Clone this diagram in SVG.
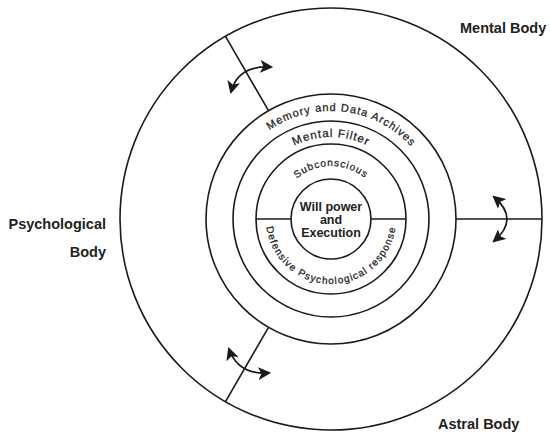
<svg xmlns="http://www.w3.org/2000/svg" width="550" height="433" viewBox="0 0 550 433">
<style>
.ring{fill:none;stroke:#1a1a1a;stroke-width:1.6}
.ln{stroke:#1a1a1a;stroke-width:1.6;fill:none}
.arr{stroke:#1a1a1a;stroke-width:1.7;fill:none;marker-start:url(#ah);marker-end:url(#ah)}
.lbl{font-family:"Liberation Sans",Arial,sans-serif;font-weight:bold;font-size:14.5px;fill:#222}
.ctr{font-family:"Liberation Sans",Arial,sans-serif;font-weight:bold;font-size:12.5px;fill:#222;text-anchor:middle}
.arc{font-family:"Liberation Sans",Arial,sans-serif;fill:#222;text-anchor:middle;stroke:#222;stroke-width:0.25}
</style>
<defs>
<marker id="ah" viewBox="0 0 12 12" refX="10" refY="6" markerWidth="13" markerHeight="13" markerUnits="userSpaceOnUse" orient="auto-start-reverse">
<path d="M0,0 L12,6 L0,12 L3,6 z" fill="#1a1a1a"/>
</marker>
<path id="pMem" d="M 223,219 A 108,108 0 0 1 439,219"/>
<path id="pFil" d="M 249,219 A 82,82 0 0 1 413,219"/>
<path id="pSub" d="M 278,219 A 53,53 0 0 1 384,219"/>
<path id="pDef" d="M 266,219 A 65,65 0 0 0 396,219"/>
</defs>
<rect width="550" height="433" fill="#fff"/>
<g id="mental-body">
<circle class="ring" cx="331" cy="219" r="211" stroke-width="1.9"/>
</g>
<g id="memory">
<circle class="ring" cx="331" cy="219" r="125"/>
<text class="arc" font-size="11" letter-spacing="1"><textPath href="#pMem" startOffset="182">Memory and Data Archives</textPath></text>
</g>
<g id="mental-filter">
<circle class="ring" cx="331" cy="219" r="98"/>
<text class="arc" font-size="11.5" letter-spacing="1"><textPath href="#pFil" startOffset="50%">Mental Filter</textPath></text>
</g>
<g id="subconscious">
<circle class="ring" cx="331" cy="219" r="75"/>
<line class="ln" x1="256" y1="219" x2="291" y2="219"/>
<line class="ln" x1="371" y1="219" x2="406" y2="219"/>
<text class="arc" font-size="10" letter-spacing="1"><textPath href="#pSub" startOffset="50%">Subconscious</textPath></text>
<text class="arc" font-size="10" letter-spacing="1.1"><textPath href="#pDef" startOffset="50%">Defensive Psychological response</textPath></text>
</g>
<g id="will">
<circle class="ring" cx="331" cy="219" r="40"/>
<text class="ctr" x="331" y="211">Will power</text>
<text class="ctr" x="331" y="224">and</text>
<text class="ctr" x="331" y="237">Execution</text>
</g>
<g id="labels">
<text class="lbl" x="460" y="33">Mental Body</text>
<text class="lbl" x="106" y="229" text-anchor="end">Psychological</text>
<text class="lbl" x="106" y="257" text-anchor="end">Body</text>
<text class="lbl" x="438" y="429">Astral Body</text>
</g>
<g id="connectors">
<line class="ln" x1="268.5" y1="110.7" x2="225.5" y2="36.3"/>
<line class="ln" x1="268.5" y1="327.3" x2="225.5" y2="401.7"/>
<line class="ln" x1="456" y1="219" x2="542" y2="219"/>
<path class="arr" d="M 231,92 Q 238,65 271,67"/>
<path class="arr" d="M 494,197 Q 520,219 494,241"/>
<path class="arr" d="M 229,349 Q 238,375 269,373"/>
</g>
</svg>
